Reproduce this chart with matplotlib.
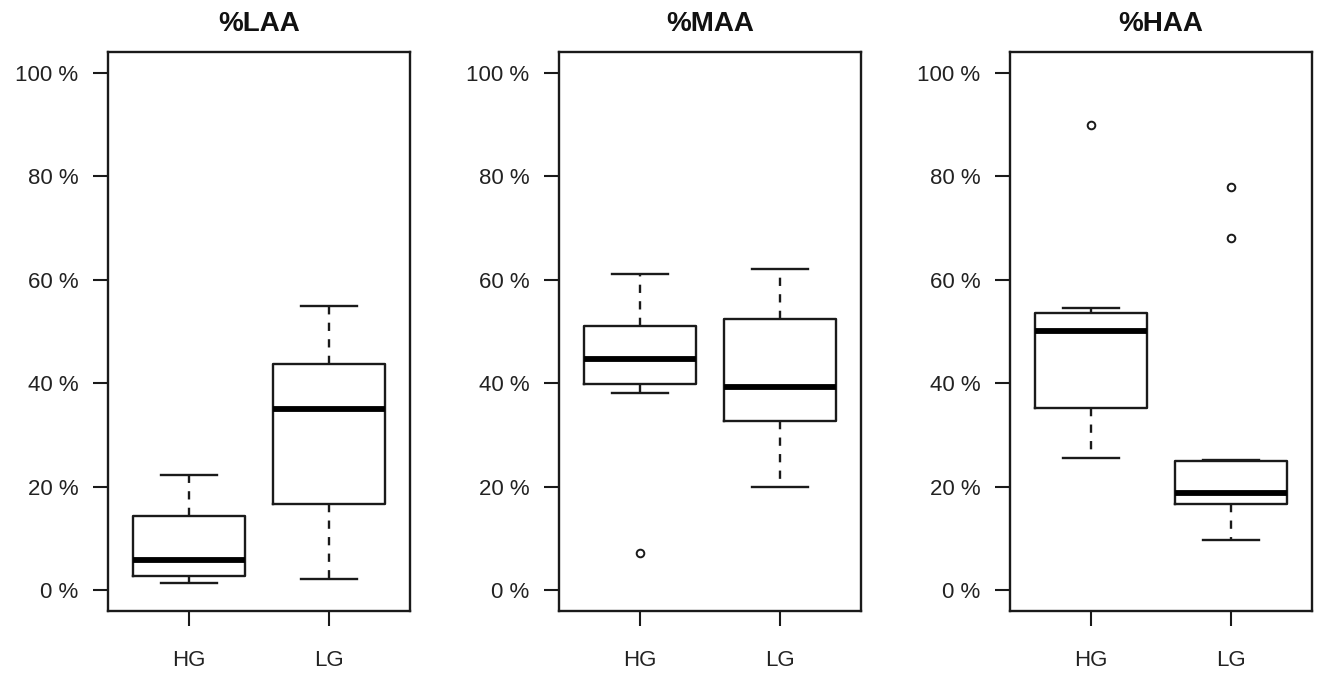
import matplotlib
matplotlib.use("Agg")
import matplotlib.pyplot as plt

plt.rcParams['font.family'] = ['Liberation Sans', 'DejaVu Sans']

titles = ["%LAA", "%MAA", "%HAA"]
groups = ["HG", "LG"]

# per panel, per group: [whislo, q1, median, q3, whishi]
laa_hg = [1.4, 2.7, 5.8, 14.4, 22.2]
laa_lg = [2.2, 16.6, 35.0, 43.7, 54.9]
maa_hg = [38.1, 39.8, 44.7, 51.0, 61.1]
maa_lg = [19.9, 32.7, 39.3, 52.5, 62.0]
haa_hg = [25.5, 35.2, 50.1, 53.5, 54.5]
haa_lg = [9.7, 16.6, 18.8, 24.9, 25.2]

laa_fliers = [[], []]
maa_fliers = [[7.2], []]
haa_fliers = [[89.8], [78.0, 68.0]]

panels = [
    (laa_hg, laa_lg, laa_fliers),
    (maa_hg, maa_lg, maa_fliers),
    (haa_hg, haa_lg, haa_fliers),
]

yticks = [0, 20, 40, 60, 80, 100]
ytick_labels = ["0 %", "20 %", "40 %", "60 %", "80 %", "100 %"]

W, H = 1323, 673
fig = plt.figure(figsize=(W / 100, H / 100), dpi=100)

lefts = [108, 559, 1010]
ax_w = 302
top, bottom = 52, 611
line_col = '#1a1a1a'

for i, (hg, lg, fl) in enumerate(panels):
    ax = fig.add_axes([lefts[i] / W, 1 - bottom / H, ax_w / W, (bottom - top) / H])
    stats = []
    for g, s, f in zip(groups, [hg, lg], fl):
        stats.append(dict(label=g, whislo=s[0], q1=s[1], med=s[2], q3=s[3],
                          whishi=s[4], fliers=f))
    ax.bxp(stats, positions=[1, 2], widths=0.8, showfliers=True,
           boxprops=dict(color=line_col, linewidth=1.7),
           medianprops=dict(color='black', linewidth=4.2, solid_capstyle='butt'),
           whiskerprops=dict(color=line_col, linewidth=1.7, linestyle=(0, (3.5, 3.5))),
           capprops=dict(color=line_col, linewidth=1.7),
           capwidths=0.4,
           flierprops=dict(marker='o', markersize=5.5, markerfacecolor='white',
                           markeredgecolor=line_col, markeredgewidth=1.4, linestyle='none'))
    ax.set_xlim(0.42, 2.58)
    ax.set_ylim(-4, 104)
    ax.set_yticks(yticks)
    ax.set_yticklabels(ytick_labels)
    ax.set_xticks([1, 2])
    ax.set_xticklabels(groups)
    ax.tick_params(axis='y', direction='out', length=10.5, width=1.5, pad=11,
                   labelsize=16, colors=line_col, labelcolor='#222222')
    ax.tick_params(axis='x', direction='out', length=11, width=1.5, pad=17,
                   labelsize=16, colors=line_col, labelcolor='#222222')
    for sp in ax.spines.values():
        sp.set_linewidth(1.7)
        sp.set_color(line_col)
    ax.set_title(titles[i], fontsize=20, fontweight='bold', pad=15, color='#111111')

fig.savefig("out.png", dpi=100)
